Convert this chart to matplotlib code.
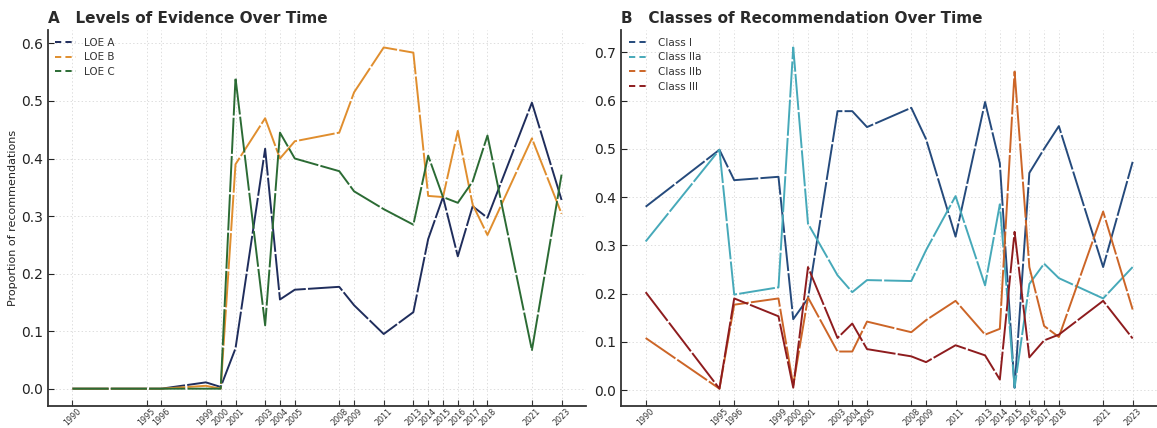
import matplotlib
matplotlib.use('Agg')
import matplotlib.pyplot as plt
from matplotlib.lines import Line2D

# years covered by the guideline documents
years = [1990, 1995, 1996, 1999, 2000, 2001, 2003, 2004, 2005, 2008,
         2009, 2011, 2013, 2014, 2015, 2016, 2017, 2018, 2021, 2023]

# levels of evidence (share of recommendations per year)
loe_a = [0.0, 0.0, 0.0, 0.011, 0.003, 0.07, 0.417, 0.155, 0.172, 0.177,
         0.145, 0.095, 0.133, 0.26, 0.333, 0.23, 0.317, 0.297, 0.497, 0.328]
loe_b = [0.0, 0.0, 0.0, 0.005, 0.0, 0.39, 0.47, 0.40, 0.43, 0.445,
         0.515, 0.593, 0.584, 0.335, 0.333, 0.448, 0.32, 0.267, 0.435, 0.304]
loe_c = [0.0, 0.0, 0.0, 0.0, 0.0, 0.54, 0.11, 0.445, 0.40, 0.378,
         0.343, 0.312, 0.285, 0.405, 0.333, 0.323, 0.36, 0.44, 0.067, 0.372]

# classes of recommendation
class_i = [0.38, 0.498, 0.435, 0.442, 0.147, 0.19, 0.578, 0.578, 0.545, 0.585,
           0.52, 0.318, 0.597, 0.47, 0.005, 0.45, 0.50, 0.547, 0.255, 0.473]
class_iia = [0.308, 0.498, 0.198, 0.213, 0.71, 0.345, 0.238, 0.203, 0.228, 0.226,
             0.29, 0.402, 0.217, 0.385, 0.005, 0.22, 0.262, 0.232, 0.19, 0.255]
class_iib = [0.108, 0.003, 0.177, 0.19, 0.01, 0.192, 0.08, 0.08, 0.142, 0.12,
             0.145, 0.185, 0.115, 0.127, 0.66, 0.255, 0.133, 0.11, 0.37, 0.167]
class_iii = [0.203, 0.003, 0.19, 0.153, 0.005, 0.255, 0.108, 0.138, 0.085, 0.07,
             0.058, 0.093, 0.072, 0.022, 0.328, 0.068, 0.103, 0.115, 0.185, 0.107]

loe_series = [('LOE A', loe_a, '#1f2d5c'),
              ('LOE B', loe_b, '#e08e2e'),
              ('LOE C', loe_c, '#2b6b34')]
cor_series = [('Class I', class_i, '#254a7c'),
              ('Class IIa', class_iia, '#46a9b9'),
              ('Class IIb', class_iib, '#cc6527'),
              ('Class III', class_iii, '#8e1c1e')]

plt.rcParams['lines.scale_dashes'] = False

fig = plt.figure(figsize=(11.57, 4.28), dpi=100)
ax_a = fig.add_axes([0.0415, 0.052, 0.465, 0.877])
ax_b = fig.add_axes([0.537, 0.052, 0.463, 0.877])


def draw_panel(ax, series, title):
    handles = []
    for label, values, color in series:
        ax.plot(years, values, color=color, linewidth=1.4,
                linestyle=(0, (26, 1.6)))
        handles.append(Line2D([0], [0], color=color, linewidth=1.4,
                              linestyle=(0, (4.5, 3))))
    ax.set_xticks(years)
    ax.set_xticklabels([str(y) for y in years], rotation=45, fontsize=5.8,
                       ha='center', color='#333333')
    ax.tick_params(axis='x', direction='in', length=4, pad=1, colors='#333333')
    ax.tick_params(axis='y', direction='in', length=4, labelsize=10, colors='#222222')
    ax.grid(True, color='#dddddd', linestyle=':', linewidth=0.7)
    ax.set_axisbelow(True)
    for side in ['top', 'right']:
        ax.spines[side].set_visible(False)
    for side in ['left', 'bottom']:
        ax.spines[side].set_color('#333333')
        ax.spines[side].set_linewidth(1.3)
    ax.set_title(title, loc='left', fontsize=11, fontweight='bold',
                 color='#2a2a2a', pad=5)
    ax.legend(handles, [s[0] for s in series], loc='upper left', frameon=False,
              fontsize=7.5, handlelength=2.0, labelspacing=0.45,
              borderaxespad=0.3, labelcolor='#333333')


draw_panel(ax_a, loe_series, 'A   Levels of Evidence Over Time')
draw_panel(ax_b, cor_series, 'B   Classes of Recommendation Over Time')
ax_a.set_ylabel('Proportion of recommendations', fontsize=8, color='#222222',
                labelpad=2)

fig.savefig('out.png', dpi=100)
